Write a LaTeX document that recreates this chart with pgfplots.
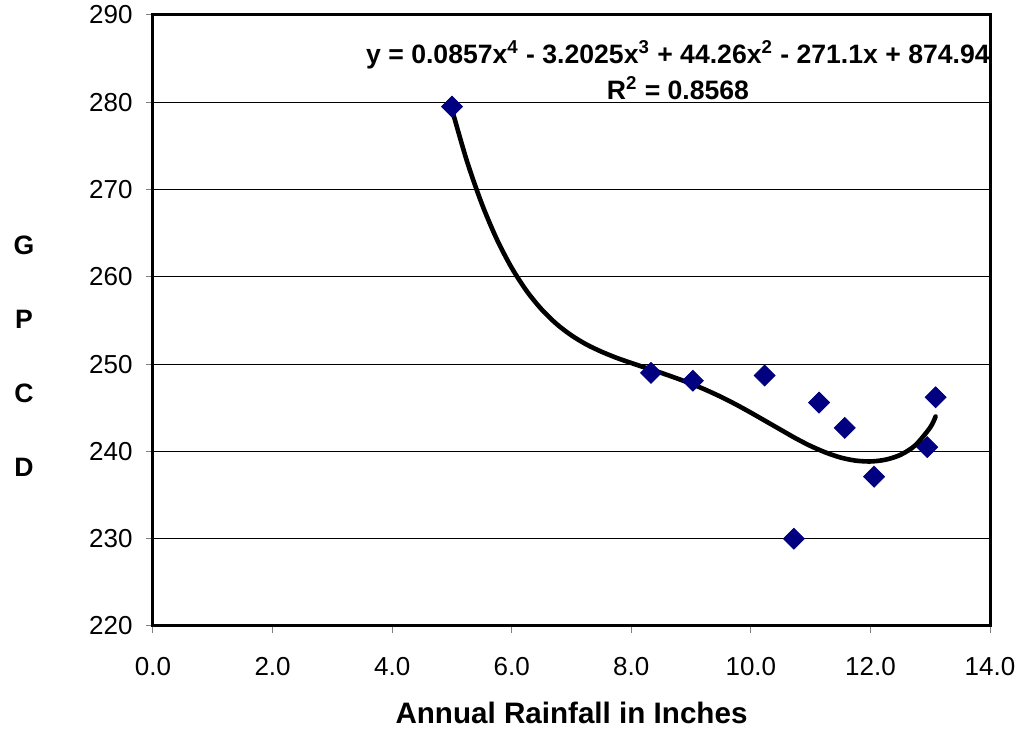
\documentclass[border=0pt]{standalone}
\usepackage{fontspec}
\setmainfont{Liberation Sans}
\usepackage{pgfplots}
\pgfplotsset{compat=1.18}
\definecolor{navymark}{HTML}{000080}
\begin{document}
\begin{tikzpicture}
\begin{axis}[
  name=ax,
  width=418.5pt, height=305.5pt, scale only axis,
  xmin=0, xmax=14, ymin=220, ymax=290,
  xtick={0,2,4,6,8,10,12,14},
  xticklabels={0.0,2.0,4.0,6.0,8.0,10.0,12.0,14.0},
  ytick={220,230,240,250,260,270,280,290},
  yticklabels={220,230,240,250,260,270,280,290},
  tick pos=left,
  tick align=outside,
  major tick length=3.5pt,
  every tick/.style={gray, line width=0.5pt},
  axis line style={black, line width=1.5pt},
  ymajorgrids,
  grid style={black, line width=0.5pt},
  ticklabel style={font=\fontsize{13}{15}\selectfont},
  xticklabel style={anchor=north, inner sep=0pt, yshift=-12pt},
  yticklabel style={anchor=east, inner sep=0pt, xshift=-6.5pt},
  xlabel={Annual Rainfall in Inches},
  xlabel style={font=\bfseries\fontsize{14.8}{17}\selectfont, at={(axis description cs:0.5,0)}, anchor=center, yshift=-43.5pt},
  ylabel={G\\P\\C\\D},
  ylabel style={font=\bfseries\fontsize{13.3}{37}\selectfont, align=center, rotate=-90, at={(axis description cs:0,0.442)}, anchor=center, xshift=-64.5pt},
  clip=false,
]
\addplot[black, line width=2.3pt, smooth, line cap=round] coordinates {
  (5.00,279.19) (5.25,273.28) (5.50,268.37) (5.75,264.32) (6.00,261.03)
  (6.25,258.38) (6.50,256.27) (6.75,254.60) (7.00,253.29) (7.25,252.25)
  (7.50,251.43) (7.75,250.73) (8.00,250.13) (8.25,249.56) (8.50,249.00)
  (8.75,248.40) (9.00,247.76) (9.25,247.04) (9.50,246.25) (9.75,245.38)
  (10.00,244.44) (10.25,243.46) (10.50,242.48) (10.75,241.50) (11.00,240.62)
  (11.25,239.88) (11.50,239.30) (11.75,238.95) (12.00,238.85) (12.25,239.05)
  (12.50,239.60) (12.75,240.70) (13.00,242.75) (13.09,244.00)
};
\addplot[only marks, mark=square*, mark size=3.7pt, mark options={rotate=45, fill=navymark, draw=navymark}] coordinates {
  (5.00,279.5) (8.33,249.0) (9.03,248.1) (10.23,248.7) (10.72,230.0)
  (11.14,245.6) (11.57,242.7) (12.06,237.1) (12.95,240.5) (13.09,246.2)
};
\node[align=center, font=\bfseries\fontsize{13.3}{18}\selectfont] at (axis cs:8.78,283.7)
  {y = 0.0857x\textsuperscript{4} - 3.2025x\textsuperscript{3} + 44.26x\textsuperscript{2} - 271.1x + 874.94\\R\textsuperscript{2} = 0.8568};
\end{axis}
\pgfresetboundingbox
\path ([xshift=-76.5pt,yshift=-51.5pt]ax.south west) rectangle ([xshift=15pt,yshift=7.5pt]ax.north east);
\end{tikzpicture}
\end{document}
